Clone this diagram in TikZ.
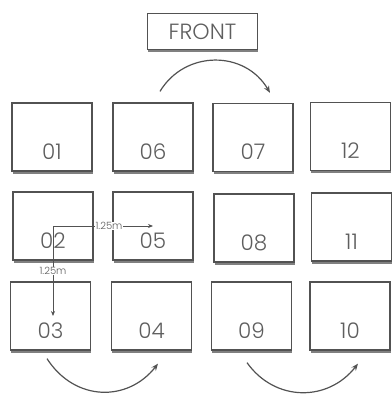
\documentclass[tikz,border=0pt]{standalone}
\usepackage{fontspec}
\setmainfont{Poppins}[UprightFont=* Light]
\usetikzlibrary{arrows.meta,shadows}
\definecolor{lc}{HTML}{525252}
\definecolor{tc}{HTML}{5E5E5E}
\definecolor{sc}{HTML}{808080}
\tikzset{
  box/.style={draw=lc, line width=1.3pt, fill=white, minimum width=80pt, minimum height=68pt,
    inner sep=0pt, text=tc, font=\fontsize{21.5}{21.5}\selectfont,
    drop shadow={shadow xshift=0.8pt, shadow yshift=-2.8pt, opacity=1, fill=sc}},
  frontbox/.style={draw=lc, line width=1.3pt, fill=white, minimum width=110pt, minimum height=36pt,
    inner sep=0pt, text=tc, font=\fontsize{22}{22}\selectfont,
    drop shadow={shadow xshift=0.8pt, shadow yshift=-2.5pt, opacity=1, fill=sc}},
  arr/.style={draw=lc, line width=1.2pt, -{Stealth[length=7pt,width=5.5pt]}},
  meas/.style={draw=lc, line width=0.8pt, -{Stealth[length=5pt,width=4pt]}},
  measlbl/.style={fill=white, inner sep=0.5pt, text=tc, font=\fontsize{10}{10}\selectfont}
}
\newcommand{\lowtxt}[1]{\raisebox{-22pt}[0pt][0pt]{#1}}
\begin{document}
\begin{tikzpicture}[x=1pt,y=-1pt]
\useasboundingbox (0,0) rectangle (391,396);
\node[frontbox] (front) at (202.5,31.5) {FRONT};
% row 1
\node[box] (b01) at (52,137) {\lowtxt{01}};
\node[box] (b06) at (153,137) {\lowtxt{06}};
\node[box] (b07) at (253,137.5) {\lowtxt{07}};
\node[box] (b12) at (350.5,136.5) {\lowtxt{12}};
% row 2
\node[box] (b02) at (53,226) {\lowtxt{02}};
\node[box] (b05) at (153,226) {\lowtxt{05}};
\node[box] (b08) at (254,228) {\lowtxt{08}};
\node[box] (b11) at (351.5,227) {\lowtxt{11}};
% row 3
\node[box] (b03) at (50.5,316) {\lowtxt{03}};
\node[box] (b04) at (151.5,316) {\lowtxt{04}};
\node[box] (b09) at (251.5,316) {\lowtxt{09}};
\node[box] (b10) at (350,316) {\lowtxt{10}};
% curved arrows
\draw[arr] ([shift={(7pt,11pt)}]b06.north) .. controls (185,50) and (245,50) .. ([shift={(17pt,10pt)}]b07.north);
\draw[arr] ([shift={(-3.5pt,-8pt)}]b03.south) .. controls (75,402) and (128,402) .. ([shift={(6.5pt,-13pt)}]b04.south);
\draw[arr] ([shift={(-4.5pt,-12pt)}]b09.south) .. controls (275,402) and (328,402) .. ([shift={(8pt,-13pt)}]b10.south);
% measurements
\draw[meas] (b02.center) -- node[measlbl, pos=0.56] {1.25m} (b05.center);
\draw[meas] (b02.center) -- node[measlbl, pos=0.5] {1.25m} (b02.center |- b03.center);
\end{tikzpicture}
\end{document}
